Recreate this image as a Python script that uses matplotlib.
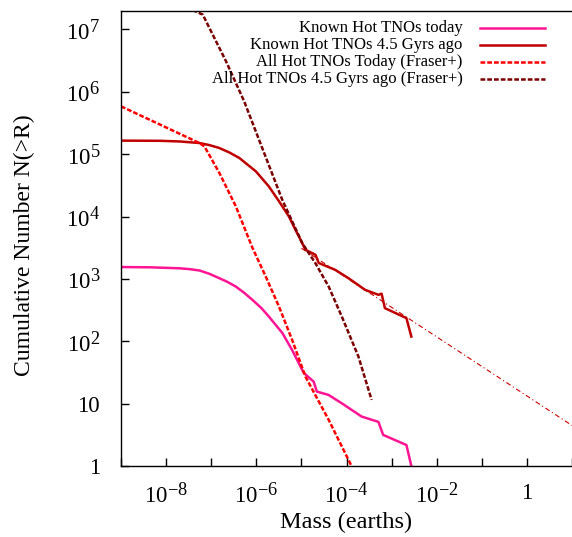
# -*- coding: utf-8 -*-
import numpy as np
import matplotlib
matplotlib.use('Agg')
import matplotlib.pyplot as plt
import matplotlib._mathtext as mathtext

# gnuplot style superscripts are bigger than the mathtext default
mathtext.SHRINK_FACTOR = 0.8

plt.rcParams['font.family'] = 'Liberation Serif'
plt.rcParams['mathtext.fontset'] = 'custom'
plt.rcParams['mathtext.rm'] = 'Liberation Serif'
plt.rcParams['mathtext.it'] = 'Liberation Serif:italic'

# Known Hot TNOs today (cumulative count vs mass)
known_today_mass = [1e-9, 4.4e-9, 2.0e-8, 3.3e-8, 5.5e-8, 9.1e-8, 1.5e-7, 2.27e-7,
                    3.5e-7, 5.4e-7, 8.2e-7, 1.28e-6, 1.9e-6, 3.8e-6, 6.2e-6,
                    1.04e-5, 1.13e-5, 1.87e-5, 2.2e-5, 4.0e-5, 7.9e-5, 2.17e-4,
                    5.1e-4, 6.5e-4, 2.13e-3, 2.74e-3]
known_today_n = [1550, 1535, 1480, 1435, 1365, 1208, 1030, 898, 755, 598, 461,
                 344, 249, 135, 72.8, 34.8, 31.1, 22.5, 15.6, 13.8, 10.1, 6.2,
                 5.1, 3.15, 2.17, 1.0]

# Known Hot TNOs 4.5 Gyrs ago
known_past_mass = [1e-9, 7.2e-9, 2.0e-8, 5.5e-8, 9.1e-8, 1.5e-7, 2.5e-7, 4.2e-7,
                   9.8e-7, 1.9e-6, 3.2e-6, 5.3e-6, 7.4e-6, 8.8e-6, 1.23e-5,
                   2.05e-5, 2.42e-5, 5.6e-5, 1.1e-4, 2.58e-4, 5.1e-4, 6.0e-4,
                   7.1e-4, 2.13e-3, 2.74e-3]
known_past_n = [1.65e5, 1.64e5, 1.6e5, 1.51e5, 1.40e5, 1.26e5, 1.07e5, 8.7e4,
                5.3e4, 3.04e4, 1.75e4, 1.0e4, 6.1e3, 4.8e3, 2.93e3, 2.44e3,
                1.8e3, 1.4e3, 1.03e3, 668, 556, 580, 340, 235, 119]

# All Hot TNOs today (Fraser+)
all_today_mass = [1e-9, 5.5e-8, 7.1e-8, 1.52e-7, 3.53e-7, 8.2e-7, 1.62e-6,
                  3.18e-6, 6.24e-6, 1.23e-5, 4.02e-5, 1.21e-4, 1.5e-4]
all_today_n = [5.85e5, 1.51e5, 1.33e5, 4.99e4, 1.45e4, 3.16e3, 1.09e3, 361,
               105, 27.1, 5.5, 1.1, 0.8]

# All Hot TNOs 4.5 Gyrs ago (Fraser+)
all_past_mass = [1e-9, 6.5e-8, 2.13e-7, 5.38e-7, 3.76e-6, 1.04e-5, 2.04e-5,
                 4.02e-5, 7.87e-5, 1.84e-4, 3.6e-4]
all_past_n = [6.7e7, 1.73e7, 3.09e6, 7.05e5, 1.86e4, 3.76e3, 1.79e3, 755, 249,
              56.8, 11.5]

# power-law extension of the known 4.5 Gyr curve
fit_mass = [1e-5, 10]
fit_n = [3.1e3, 4.47]

xtick_vals = [10.0 ** k for k in range(-9, 2)]
xtick_labels = ['', r'$10^{-8}$', '', r'$10^{-6}$', '', r'$10^{-4}$', '',
                r'$10^{-2}$', '', '1', '']
ytick_vals = [10.0 ** k for k in range(0, 8)]
ytick_labels = ['1', '10', r'$10^{2}$', r'$10^{3}$', r'$10^{4}$', r'$10^{5}$',
                r'$10^{6}$', r'$10^{7}$']

series = [
    ('Known Hot TNOs today', known_today_mass, known_today_n, '#ff1493', '-'),
    ('Known Hot TNOs 4.5 Gyrs ago', known_past_mass, known_past_n, '#c00000', '-'),
    ('All Hot TNOs Today (Fraser+)', all_today_mass, all_today_n, '#ff0000', (0, (1.9, 0.8))),
    ('All Hot TNOs 4.5 Gyrs ago (Fraser+)', all_past_mass, all_past_n, '#7a0000', (0, (1.9, 0.8))),
]

fig = plt.figure(figsize=(5.72, 5.37), dpi=100)
ax = fig.add_axes([121 / 572, 71 / 537, 451 / 572, 455.3 / 537])

ax.plot(fit_mass, fit_n, color='#cc0000', lw=0.8, ls=(0, (4.5, 2.5, 1, 2.5)))
for label, m, n, c, ls in series:
    ax.plot(m, n, color=c, lw=1.8, ls=ls)

ax.set_xscale('log')
ax.set_yscale('log')
ax.set_xlim(1e-9, 10)
ax.set_ylim(1, 2e7)

ax.set_xticks(xtick_vals)
ax.set_xticklabels(xtick_labels)
ax.set_yticks(ytick_vals)
ax.set_yticklabels(ytick_labels)
ax.minorticks_off()
ax.tick_params(direction='in', length=6, width=1, labelsize=16.5)
ax.tick_params(axis='x', pad=12)
ax.tick_params(axis='y', pad=15)

ax.spines['right'].set_visible(False)
for s in ('left', 'bottom', 'top'):
    ax.spines[s].set_linewidth(1.0)

ax.set_xlabel('Mass (earths)', fontsize=17.5)
ax.xaxis.set_label_coords(0.5, -0.1)
ax.set_ylabel('Cumulative Number N(>R)', fontsize=17)
ax.yaxis.set_label_coords(-0.19, 0.485)

# gnuplot style key: right aligned text, sample on the right
key_y = [0.962, 0.925, 0.887, 0.849]
for (label, m, n, c, ls), y in zip(series, key_y):
    ax.text(0.758, y, label, transform=ax.transAxes, ha='right', va='center',
            fontsize=12)
    ax.plot([0.796, 0.94], [y, y], transform=ax.transAxes, color=c, lw=1.8,
            ls=ls, clip_on=False)

fig.savefig('out.png', dpi=100)
